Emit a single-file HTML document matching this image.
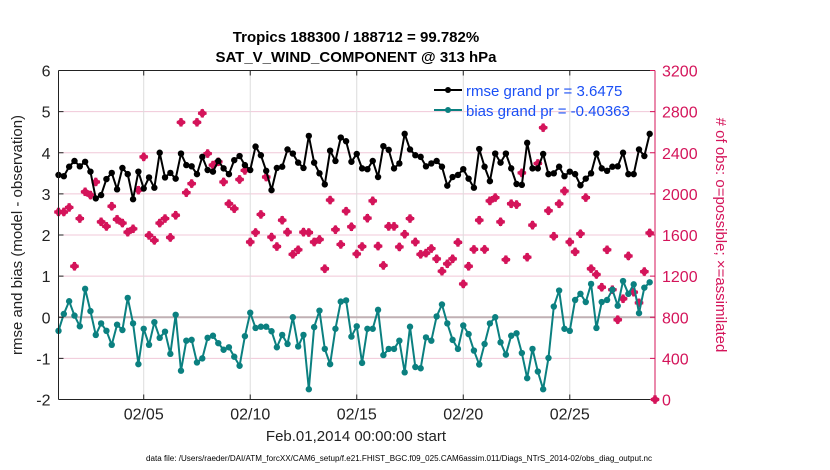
<!DOCTYPE html>
<html><head><meta charset="utf-8"><style>
body{margin:0;background:#fff;}
svg{display:block;font-family:"Liberation Sans",Arial,sans-serif;}
</style></head><body>
<svg id="chart" width="830" height="470" viewBox="0 0 830 470" xmlns="http://www.w3.org/2000/svg">
<text x="356" y="42" text-anchor="middle" font-size="15" font-weight="bold" fill="#000">Tropics 188300 / 188712 = 99.782%</text>
<text x="356" y="62" text-anchor="middle" font-size="15" font-weight="bold" fill="#000">SAT_V_WIND_COMPONENT @ 313 hPa</text>
<g id="grid"></g>
<g id="marks"></g>
<g id="axes"></g>
<text transform="translate(22,235) rotate(-90)" text-anchor="middle" font-size="15" fill="#222">rmse and bias (model - observation)</text>
<text transform="translate(716,235) rotate(90)" text-anchor="middle" font-size="15" fill="#d4145a"># of obs: o=possible; ×=assimilated</text>
<text x="356" y="441" text-anchor="middle" font-size="15" fill="#222">Feb.01,2014 00:00:00 start</text>
<text x="399" y="461" text-anchor="middle" font-size="8" fill="#000" textLength="506" lengthAdjust="spacingAndGlyphs">data file: /Users/raeder/DAI/ATM_forcXX/CAM6_setup/f.e21.FHIST_BGC.f09_025.CAM6assim.011/Diags_NTrS_2014-02/obs_diag_output.nc</text>
<g>
<line x1="434" y1="90" x2="462" y2="90" stroke="#000" stroke-width="2"/>
<circle cx="448" cy="90" r="3" fill="#000"/>
<text x="466" y="96" font-size="15" fill="#1a4ff5">rmse grand pr = 3.6475</text>
<line x1="434" y1="110" x2="462" y2="110" stroke="#0b8080" stroke-width="2"/>
<circle cx="448" cy="110" r="3" fill="#0b8080"/>
<text x="466" y="116" font-size="15" fill="#1a4ff5">bias grand pr = -0.40363</text>
</g>
</svg>
<script>
const rmse=[3.46,3.43,3.66,3.80,3.67,3.78,3.54,2.89,2.97,3.36,3.51,3.11,3.63,3.48,2.87,3.54,3.13,3.40,3.15,4.0,3.40,3.51,3.37,3.98,3.70,3.67,3.48,3.9,3.58,3.54,
3.80,3.62,3.48,3.82,3.92,3.70,3.58,4.15,3.94,3.56,3.09,3.63,3.66,4.08,3.98,3.76,3.63,4.41,3.76,3.50,3.23,4.05,3.80,4.37,4.28,3.78,3.97,3.62,3.60,
3.80,3.41,4.16,4.07,3.62,3.74,4.46,4.08,3.94,3.90,3.67,3.74,3.80,3.66,3.20,3.41,3.46,3.60,3.37,3.15,4.09,3.66,3.31,3.98,3.76,3.98,3.62,
3.24,3.22,4.24,3.62,3.62,3.97,3.48,3.5,3.66,3.43,3.54,3.48,3.21,3.37,3.5,3.98,3.62,3.56,3.66,3.67,4.0,3.48,3.48,4.08,3.92,4.46];
const bias=[-0.33,0.08,0.39,0.04,-0.22,0.69,0.15,-0.43,-0.15,-0.33,-0.67,-0.18,-0.31,0.47,-0.15,-1.14,-0.28,-0.67,-0.12,-0.5,-0.35,-0.89,0.06,-1.3,-0.57,-0.55,-1.1,-1.0,-0.5,-0.45,
-0.63,-0.79,-0.73,-0.96,-1.18,-0.46,0.11,-0.26,-0.23,-0.23,-0.34,-0.73,-0.43,-0.65,0,-0.71,-0.43,-1.75,-0.24,0.16,-0.77,-1.14,-0.28,0.38,0.41,-0.47,-0.22,-1.11,-0.28,
-0.28,0.18,-0.92,-0.77,-0.77,-0.57,-1.34,-0.23,-1.21,-1.24,-0.49,-0.57,0.02,0.31,-0.15,-0.55,-0.77,-0.2,-0.41,-0.81,-1.15,-0.65,-0.15,0,-0.61,-0.91,-0.45,
-0.39,-0.87,-1.48,-0.77,-1.32,-1.75,-0.99,0.26,0.65,-0.28,-0.33,0.42,0.57,0.37,0.81,-0.26,0.37,0.42,0.67,0.28,0.88,0.57,0.8,0.1,0.72,0.85];
const obsCount=[1824,1824,1868,1296,1760,2020,1988,2116,1728,1684,1880,1752,1716,1628,1660,2036,2360,1596,1548,1716,1760,1576,1792,2696,2012,2100,2696,2784,2392,2280,
2312,2116,1904,1856,2140,2228,1532,1624,1800,2164,1580,1488,1744,1628,1412,1456,1628,1624,1532,1556,1272,1940,1652,1508,1832,1680,1416,1488,1764,
1932,1492,1304,1684,1684,1484,1608,1760,1532,1412,1424,1468,1368,1248,1320,1368,1528,1124,1296,1460,1744,1460,1932,1964,1728,1360,1904,
1896,2204,1384,1696,2296,2644,1836,1588,1904,2028,1532,1436,1612,1964,1272,1216,1092,1456,1068,776,980,1396,1044,940,1244,1620,0];
const leftTicks=[-2,-1,0,1,2,3,4,5,6];
const rightTicks=[0,400,800,1200,1600,2000,2400,2800,3200];
const dayTicks=[5,10,15,20,25];
const dayLabels=["02/05","02/10","02/15","02/20","02/25"];
const stepDays=0.25;

const NS="http://www.w3.org/2000/svg";
const X0=58.5,X1=655,Y0=399.5,Y1=70.5;
function xDay(d){return X0+(d-1)/28*(X1-X0);}
function yL(v){return Y0+(v+2)/8*(Y1-Y0);}
function yR(c){return Y0+c/3200*(Y1-Y0);}
function mk(tag,attrs,parent){const e=document.createElementNS(NS,tag);for(const k in attrs)e.setAttribute(k,attrs[k]);parent.appendChild(e);return e;}
const grid=document.getElementById('grid'),marks=document.getElementById('marks'),axes=document.getElementById('axes');

leftTicks.forEach(v=>{
  if(v===0||v===-2||v===6)return;
  const l=mk('line',{x1:X0,x2:X1,y1:yL(v),y2:yL(v),stroke:'#f0c8d8','stroke-width':1},grid);
  
  
});
dayTicks.forEach(d=>{
  const l=mk('line',{x1:xDay(d),x2:xDay(d),y1:Y1,y2:Y0,stroke:'#dcdcdc','stroke-width':1},grid);
  
  
});
const zl=mk('line',{x1:X0,x2:X1,y1:yL(0),y2:yL(0),stroke:'#c0b0b4','stroke-width':2},grid);



obsCount.forEach((c,i)=>{
  const x=xDay(1+i*stepDays),y=yR(c);
  const p=mk('path',{d:`M${x-1.6},${y-4.2}h3.2v2.6h2.6v3.2h-2.6v2.6h-3.2v-2.6h-2.6v-3.2h2.6z`,fill:'#d4145a'},marks);
  
  
  const d=mk('path',{d:`M${x},${y-4.6}L${x+4.6},${y}L${x},${y+4.6}L${x-4.6},${y}Z`,fill:'#d4145a'},marks);
  
  
});
function series(arr,color,name){
  const pts=arr.map((v,i)=>[xDay(1+i*stepDays),yL(v)]);
  const pl=mk('polyline',{points:pts.map(p=>p.join(',')).join(' '),fill:'none',stroke:color,'stroke-width':2,'stroke-linejoin':'round'},marks);
  
  
  pts.forEach(p=>{
    const c=mk('circle',{cx:p[0],cy:p[1],r:3.2,fill:color},marks);
    
    
  });
}
series(bias,'#0b8080','bias');
series(rmse,'#000','rmse');

mk('line',{x1:X0,x2:X1,y1:Y1,y2:Y1,stroke:'#222','stroke-width':1},axes);
mk('line',{x1:X0,x2:X1,y1:Y0,y2:Y0,stroke:'#222','stroke-width':1},axes);
mk('line',{x1:X0,x2:X0,y1:Y1,y2:Y0,stroke:'#222','stroke-width':1},axes);
mk('line',{x1:X1,x2:X1,y1:Y1,y2:Y0,stroke:'#d4145a','stroke-width':1},axes);
leftTicks.forEach(v=>{
  mk('line',{x1:X0,x2:X0+5,y1:yL(v),y2:yL(v),stroke:'#222'},axes);
  const t=mk('text',{x:X0-8,y:yL(v)+6,'text-anchor':'end','font-size':16,fill:'#222'},axes);
  t.textContent=v;
  
  
});
rightTicks.forEach(c=>{
  mk('line',{x1:X1-5,x2:X1,y1:yR(c),y2:yR(c),stroke:'#d4145a'},axes);
  const t=mk('text',{x:X1+7,y:yR(c)+6,'text-anchor':'start','font-size':16,fill:'#d4145a'},axes);
  t.textContent=c;
  
  
});
dayTicks.forEach((d,i)=>{
  mk('line',{x1:xDay(d),x2:xDay(d),y1:Y0,y2:Y0-5,stroke:'#222'},axes);
  mk('line',{x1:xDay(d),x2:xDay(d),y1:Y1,y2:Y1+5,stroke:'#222'},axes);
  const t=mk('text',{x:xDay(d),y:Y0+20,'text-anchor':'middle','font-size':16,fill:'#222'},axes);
  t.textContent=dayLabels[i];
  
  
});
</script>
</body></html>
